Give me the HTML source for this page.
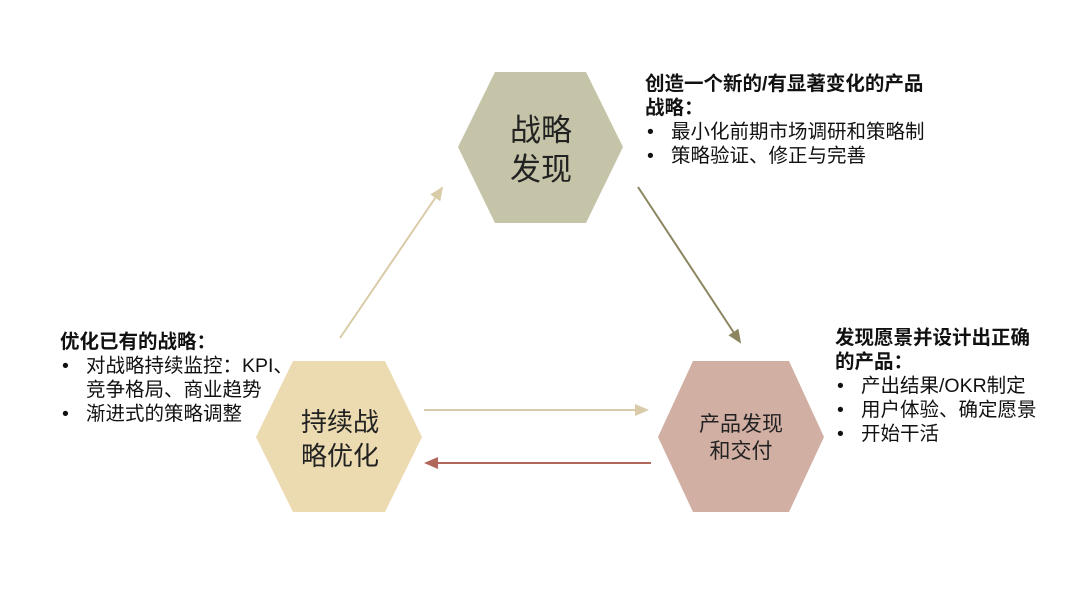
<!DOCTYPE html>
<html><head><meta charset="utf-8"><style>
body{margin:0;width:1080px;height:608px;background:#fff;position:relative;overflow:hidden;font-family:"Liberation Sans","Noto Sans CJK SC",sans-serif;color:#111}
.t{position:absolute;font-size:19.5px;line-height:24px;white-space:nowrap}
.b{font-weight:bold}
.li{padding-left:26px;position:relative}
.li:before{content:"•";position:absolute;left:2px}
</style></head><body>
<svg width="1080" height="608" style="position:absolute;left:0;top:0">
<defs>
<marker id="a1" markerWidth="8" markerHeight="8" refX="6" refY="4" orient="auto"><path d="M0,1 L7,4 L0,7z" fill="#d9cba8"/></marker>
<marker id="a2" markerWidth="8" markerHeight="8" refX="6" refY="4" orient="auto"><path d="M0,1 L7,4 L0,7z" fill="#8b8660"/></marker>
<marker id="a3" markerWidth="8" markerHeight="8" refX="6" refY="4" orient="auto"><path d="M0,1 L7,4 L0,7z" fill="#b0685a"/></marker>
</defs>
<polygon points="458,147 495,72 586,72 623,147 586,223 495,223" fill="#c5c4a8"/>
<polygon points="256,437 293,361 385,361 422,437 385,512 293,512" fill="#ecdab0"/>
<polygon points="658,437 693,361 789,361 824,437 789,512 693,512" fill="#d1afa3"/>
<line x1="340" y1="338" x2="442" y2="188" stroke="#d9cba8" stroke-width="2" marker-end="url(#a1)"/>
<line x1="638" y1="187" x2="740" y2="342" stroke="#8b8660" stroke-width="2" marker-end="url(#a2)"/>
<line x1="424" y1="410" x2="647" y2="410" stroke="#d9cba8" stroke-width="2" marker-end="url(#a1)"/>
<line x1="651" y1="463" x2="426" y2="463" stroke="#b0685a" stroke-width="2" marker-end="url(#a3)"/>
<text x="541" y="141" font-size="31" text-anchor="middle" fill="#222" font-family="Liberation Sans,Noto Sans CJK SC,sans-serif">战略</text>
<text x="541" y="180" font-size="31" text-anchor="middle" fill="#222" font-family="Liberation Sans,Noto Sans CJK SC,sans-serif">发现</text>
<text x="340" y="431" font-size="26" text-anchor="middle" fill="#222" font-family="Liberation Sans,Noto Sans CJK SC,sans-serif">持续战</text>
<text x="340" y="465" font-size="26" text-anchor="middle" fill="#222" font-family="Liberation Sans,Noto Sans CJK SC,sans-serif">略优化</text>
<text x="741" y="431" font-size="21" text-anchor="middle" fill="#222" font-family="Liberation Sans,Noto Sans CJK SC,sans-serif">产品发现</text>
<text x="741" y="458" font-size="21" text-anchor="middle" fill="#222" font-family="Liberation Sans,Noto Sans CJK SC,sans-serif">和交付</text>
</svg>
<div class="t" style="left:645px;top:72px">
<div class="b">创造一个新的/有显著变化的产品</div>
<div class="b">战略：</div>
<div class="li">最小化前期市场调研和策略制</div>
<div class="li">策略验证、修正与完善</div>
</div>
<div class="t" style="left:60px;top:330px">
<div class="b">优化已有的战略：</div>
<div class="li">对战略持续监控：KPI、</div>
<div style="padding-left:26px">竞争格局、商业趋势</div>
<div class="li">渐进式的策略调整</div>
</div>
<div class="t" style="left:835px;top:326px">
<div class="b">发现愿景并设计出正确</div>
<div class="b">的产品：</div>
<div class="li">产出结果/OKR制定</div>
<div class="li">用户体验、确定愿景</div>
<div class="li">开始干活</div>
</div>
</body></html>
